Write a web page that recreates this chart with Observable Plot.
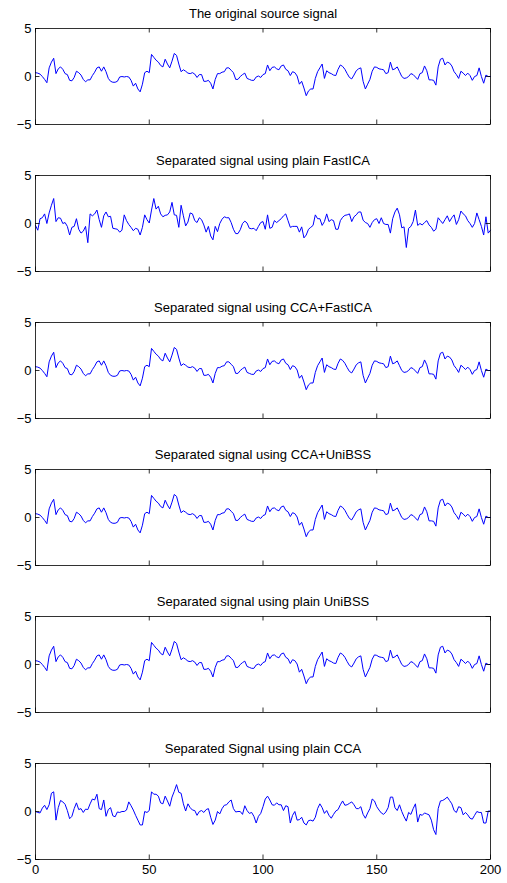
<!DOCTYPE html>
<html><head><meta charset="utf-8">
<script src="https://cdn.jsdelivr.net/npm/d3@7"></script>
<script src="https://cdn.jsdelivr.net/npm/@observablehq/plot@0.6"></script>
<style>body{margin:0;background:#fff}</style>
</head><body><div id="chart"></div>
<script>
const titles = [
  "The original source signal",
  "Separated signal using plain FastICA",
  "Separated signal using CCA+FastICA",
  "Separated signal using CCA+UniBSS",
  "Separated signal using plain UniBSS",
  "Separated Signal using plain CCA"
];
const xTicks = [0, 50, 100, 150, 200];
const yTicks = [-5, 0, 5];

const sourceSignal = [
 0.4,0.35,0.25,0.0,-0.3,-0.65,0.9,1.5,1.9,0.3,
 0.8,1.0,0.75,0.3,0.2,-0.4,-0.45,-0.1,0.55,0.4,
 0.15,-0.3,-0.55,-0.35,-0.35,0.1,0.45,0.9,1.0,0.55,
 1.0,0.5,-0.2,-0.5,-0.6,-0.6,-0.5,-0.05,0.0,-0.05,
 0.0,-0.05,-0.4,-1.0,-0.7,-1.3,-1.6,-0.8,0.4,0.55,
 0.4,2.3,2.0,1.7,1.5,1.15,1.0,1.8,1.3,0.9,
 1.6,2.4,2.2,1.3,0.5,0.7,0.55,0.35,0.3,0.4,
 0.25,-0.1,0.2,0.2,-0.5,-0.5,-0.4,-0.7,-1.3,-0.3,
 0.3,0.3,0.45,0.5,0.9,0.9,0.65,0.4,-0.3,-0.3,
 0.0,0.2,0.35,-0.2,-0.3,-0.4,-0.4,-0.05,0.05,-0.1,
 0.2,0.3,1.2,0.6,0.95,1.0,0.8,0.7,1.1,1.2,
 0.75,0.6,0.1,0.5,0.4,0.05,-0.8,-0.5,-1.2,-2.0,
 -1.5,-1.3,-1.3,-0.2,0.5,0.9,1.3,-0.2,0.6,0.4,
 0.3,0.15,0.1,0.75,1.2,1.05,0.75,0.3,-0.1,-0.25,
 0.15,0.6,0.8,0.9,-0.5,-1.3,-0.8,-0.3,0.55,1.0,
 0.95,0.8,0.75,0.7,0.3,0.4,1.5,0.7,0.8,1.0,
 0.5,0.0,-0.2,-0.15,0.0,0.3,0.2,-0.05,-0.3,0.3,
 0.4,1.1,0.6,-0.35,-0.35,-0.4,-0.9,1.0,1.8,1.9,
 1.2,1.5,1.4,1.1,0.5,0.2,-0.2,0.55,0.35,0.1,
 0.35,0.1,-0.4,0.0,0.1,0.9,0.0,-0.7,0.15,0.0,
 0.0
];

const plainFastICA = [
 -0.2,-0.7,0.5,0.6,1.0,0.0,1.1,1.9,2.6,0.2,
 0.6,0.55,0.0,0.1,-0.3,-1.2,-0.4,-0.3,0.5,-0.6,
 -1.0,-0.8,-0.3,-2.0,1.0,0.8,1.0,1.4,0.4,-0.4,
 0.8,1.2,0.7,0.75,-0.5,-0.55,-0.6,-0.9,-0.7,0.9,
 0.3,-0.1,-0.4,-0.75,-0.5,-0.6,-1.2,-0.4,0.9,0.4,
 0.05,1.4,2.6,1.5,1.8,1.0,0.7,0.85,0.9,1.2,
 2.2,0.9,0.85,-0.4,1.9,0.8,-0.25,0.15,1.1,1.0,
 0.3,0.1,0.6,0.4,-0.15,-0.9,-0.3,-1.3,-1.7,-0.3,
 -0.85,0.0,0.45,0.7,0.6,0.6,0.1,-0.6,-1.05,-1.05,
 -0.65,0.0,0.25,0.05,-0.5,-0.55,-0.5,-0.75,-0.3,0.1,
 0.2,-0.6,0.9,-0.5,-0.4,0.3,0.1,0.3,0.5,0.8,
 1.0,0.3,-0.4,-0.3,-0.3,-0.3,-0.9,-0.35,-1.5,-1.2,
 -0.6,-0.4,-0.2,0.9,0.5,0.5,-0.2,0.2,1.0,0.2,
 0.4,0.3,-0.6,-0.6,0.3,0.65,0.85,0.9,1.0,0.2,
 0.7,0.9,1.2,1.2,0.35,0.1,0.0,-0.4,0.1,0.4,
 0.5,0.0,0.6,0.0,-0.1,-0.1,-1.0,0.5,1.2,1.6,
 0.9,-0.45,-0.35,-2.5,-0.5,-0.3,0.2,1.4,-0.2,0.0,
 -0.15,0.1,0.3,-0.15,-0.4,-0.8,-0.6,0.6,0.3,0.0,
 0.4,0.8,0.2,0.6,0.9,-0.1,0.4,1.3,1.0,0.8,
 0.3,0.0,-0.4,0.0,1.1,0.4,-0.3,-1.2,0.7,-1.0,
 -0.7
];

const ccaFastICA = sourceSignal.slice();
const ccaUniBSS = sourceSignal.slice();
const plainUniBSS = sourceSignal.slice();

const plainCCA = [
 0.0,-0.1,-0.15,0.35,0.65,0.2,0.7,1.9,2.05,-0.9,
 0.4,1.15,1.0,0.75,0.1,-0.75,-0.5,0.3,0.9,0.2,
 0.3,-0.1,0.25,0.2,0.8,1.3,1.2,1.8,0.3,0.2,
 1.2,-0.5,0.2,0.4,-0.45,-0.55,-0.05,-0.1,0.0,0.0,
 0.15,1.0,0.6,0.15,-0.4,-0.9,-1.4,-1.4,0.0,-0.1,
 0.1,2.05,1.8,1.8,1.6,0.9,0.8,1.6,1.1,0.55,
 1.5,2.1,2.8,2.0,1.9,0.8,0.05,0.8,0.4,0.15,
 0.1,-0.4,0.0,0.1,-0.1,0.2,0.3,-0.6,-1.35,-0.9,
 0.0,-0.25,0.3,0.65,0.7,1.0,1.2,0.3,-0.05,0.0,
 0.0,-0.3,0.6,0.1,-0.2,-0.1,-0.5,-1.2,-0.5,-0.2,
 0.5,1.3,1.6,1.2,0.7,0.65,0.9,0.7,0.7,0.1,
 0.6,0.5,-1.2,-0.4,0.0,-0.9,-0.85,-0.6,-1.2,-1.4,
 -0.95,-0.9,-1.0,-0.6,0.3,0.8,0.4,-0.2,0.1,-0.4,
 -0.7,-0.3,0.05,0.2,0.7,1.1,0.65,0.7,0.85,1.0,
 0.7,0.3,0.3,0.5,-0.3,-0.7,-0.15,0.3,1.3,1.1,
 0.5,0.15,-0.15,-0.3,-0.05,0.4,1.5,1.5,0.4,0.1,
 0.7,0.0,-0.55,-1.0,-0.1,-0.3,0.3,0.8,-1.1,-0.3,
 -0.4,-0.15,-0.25,-0.35,-0.9,-1.9,-2.4,0.3,1.1,1.15,
 1.3,1.5,1.15,0.8,0.1,-0.1,0.5,0.4,-0.35,-0.1,
 -0.35,-0.7,-0.8,-0.4,0.0,-0.1,-0.1,-1.2,-1.2,0.05,
 0.05
];

const seriesList = [sourceSignal, plainFastICA, ccaFastICA, ccaUniBSS, plainUniBSS, plainCCA];
const rows = seriesList.flatMap((vals, k) => vals.map((v, i) => ({panel: titles[k], x: i, y: v})));

const tickLen = 4.5;
const chart = Plot.plot({
  width: 507,
  height: 883,
  marginLeft: 35,
  marginRight: 17,
  marginTop: 27,
  marginBottom: 23,
  style: {fontFamily: "'Liberation Sans', Arial, Helvetica, sans-serif", fontSize: "13px", background: "white", color: "black"},
  x: {domain: [0, 200], label: null},
  y: {domain: [-5, 5], label: null},
  fy: {domain: titles, paddingInner: 0.35, paddingOuter: 0, axis: null},
  marks: [
    Plot.lineY(rows, {x: "x", y: "y", fy: "panel", stroke: "#0000ff", strokeWidth: 1}),
    Plot.frame({stroke: "black", strokeWidth: 0.8}),
    Plot.tickY(yTicks, {y: d => d, stroke: "black", strokeWidth: 0.8, insetRight: 455 - tickLen}),
    Plot.tickY(yTicks, {y: d => d, stroke: "black", strokeWidth: 0.8, insetLeft: 455 - tickLen}),
    Plot.tickX(xTicks, {x: d => d, stroke: "black", strokeWidth: 0.8, insetTop: 96 - tickLen}),
    Plot.tickX(xTicks, {x: d => d, stroke: "black", strokeWidth: 0.8, insetBottom: 96 - tickLen}),
    Plot.axisY(yTicks, {anchor: "left", label: null, tickSize: 0, tickPadding: 4, fontSize: 13}),
    Plot.axisX(xTicks, {anchor: "bottom", label: null, tickSize: 0, tickPadding: 5, fontSize: 13}),
    Plot.text(titles, {fy: d => d, text: d => d, frameAnchor: "top", lineAnchor: "middle", dy: -15, fontSize: 13})
  ]
});
document.getElementById("chart").appendChild(chart);
</script>
</body></html>
